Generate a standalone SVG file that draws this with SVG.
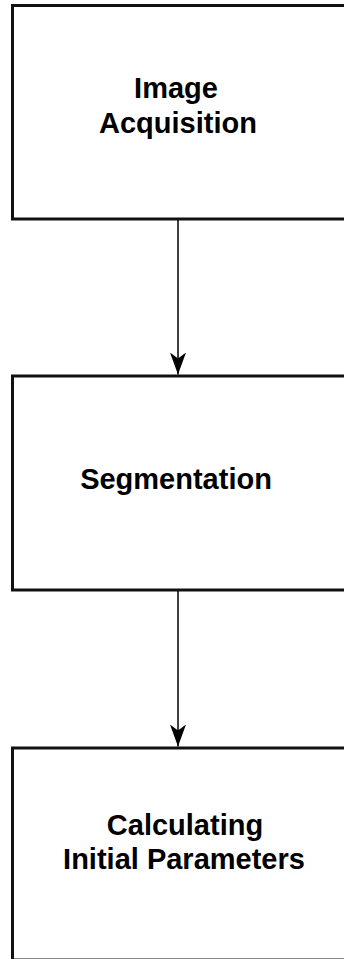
<svg xmlns="http://www.w3.org/2000/svg" width="344" height="959" viewBox="0 0 344 959">
<style>
.box{fill:#fff;stroke:#111;stroke-width:3}
.lbl{font-family:"Liberation Sans",Arial,sans-serif;font-weight:bold;font-size:29px;fill:#000;text-anchor:middle}
.conn{stroke:#000;stroke-width:1.5;fill:none}
</style>
<defs>
<marker id="ah" markerUnits="userSpaceOnUse" markerWidth="22" markerHeight="16" refX="22" refY="8" orient="auto" viewBox="0 0 22 16">
<path d="M0,0 L22,8 L0,16 L6,8 Z" fill="#000"/>
</marker>
</defs>
<rect width="344" height="959" fill="#fff"/>
<g id="n1">
<rect class="box" x="12.5" y="5.5" width="360" height="213.5"/>
<text class="lbl" x="176" y="98">Image</text>
<text class="lbl" x="178" y="133">Acquisition</text>
</g>
<g id="n2">
<rect class="box" x="12.5" y="376" width="360" height="214"/>
<text class="lbl" x="176" y="489">Segmentation</text>
</g>
<g id="n3">
<rect class="box" x="12.5" y="748" width="360" height="212"/>
<text class="lbl" x="185" y="835">Calculating</text>
<text class="lbl" x="184" y="869">Initial Parameters</text>
</g>
<g id="connectors">
<line class="conn" x1="178" y1="220" x2="178" y2="374.5" marker-end="url(#ah)"/>
<line class="conn" x1="178" y1="591" x2="178" y2="746.5" marker-end="url(#ah)"/>
</g>
</svg>
